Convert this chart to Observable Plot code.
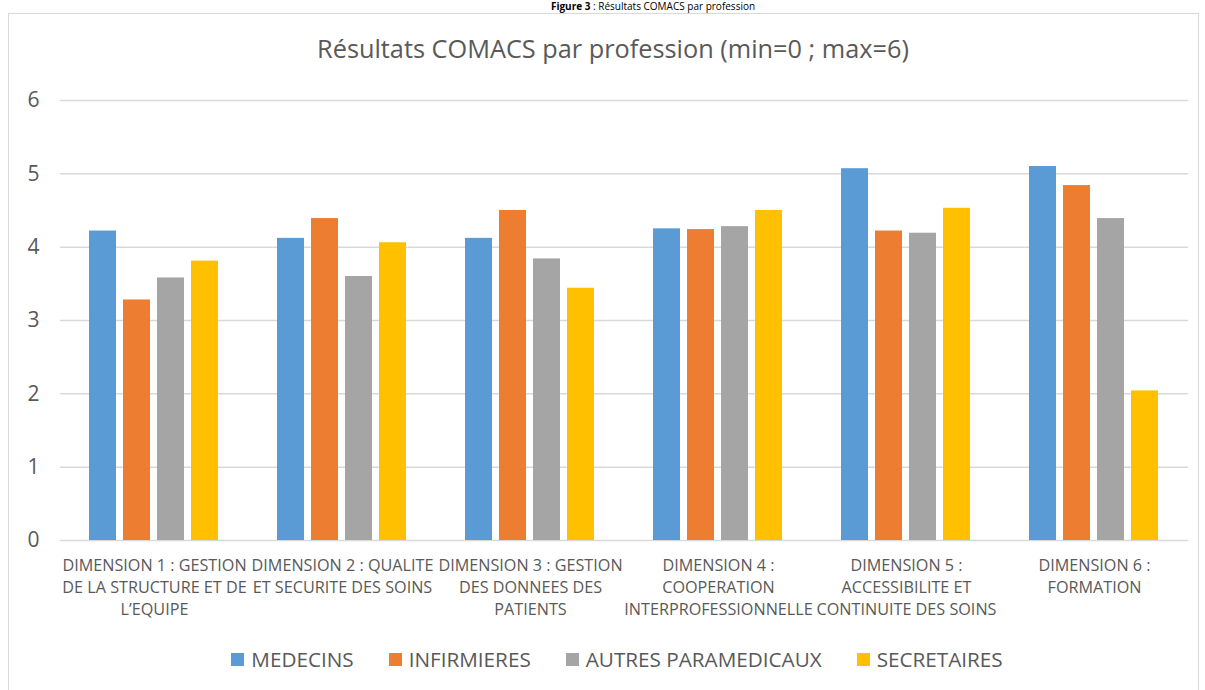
<!DOCTYPE html>
<html>
<head>
<meta charset="utf-8">
<script src="https://cdn.jsdelivr.net/npm/d3@7"></script>
<script src="https://cdn.jsdelivr.net/npm/@observablehq/plot@0.6"></script>
<style>
  html, body { margin: 0; padding: 0; background: #fff; width: 1205px; height: 690px; overflow: hidden; position: relative; font-family: "Open Sans", sans-serif; }
  #caption { position: absolute; top: 1px; left: 0; width: 1306px; text-align: center; font-size: 10px; line-height: 11px; color: #000; white-space: nowrap; }
  #frame { position: absolute; left: 8px; top: 13px; width: 1191px; height: 700px; border: 1.5px solid #d9d9d9; box-sizing: border-box; }
  #title { position: absolute; top: 31px; left: 0; width: 1226px; text-align: center; font-size: 25.3px; color: #595959; white-space: nowrap; }
  #chart { position: absolute; left: 0; top: 0; }
  #legend { position: absolute; top: 645px; left: 0; width: 1234px; display: flex; justify-content: center; gap: 35px; font-size: 20.7px; color: #595959; }
  .item { display: flex; align-items: center; gap: 7px; }
  .sw { width: 13px; height: 13px; display: inline-block; }
</style>
</head>
<body>
<div id="caption"><b>Figure 3</b> : Résultats COMACS par profession</div>
<div id="frame"></div>
<div id="title">Résultats COMACS par profession (min=0 ; max=6)</div>
<div id="chart"></div>
<div id="legend"></div>
<script>
const dimensions = ["D1", "D2", "D3", "D4", "D5", "D6"];
const dimensionLabels = [
  "DIMENSION 1 : GESTION\nDE LA STRUCTURE ET DE\nL’EQUIPE",
  "DIMENSION 2 : QUALITE\nET SECURITE DES SOINS",
  "DIMENSION 3 : GESTION\nDES DONNEES DES\nPATIENTS",
  "DIMENSION 4 :\nCOOPERATION\nINTERPROFESSIONNELLE",
  "DIMENSION 5 :\nACCESSIBILITE ET\nCONTINUITE DES SOINS",
  "DIMENSION 6 :\nFORMATION"
];
const professions = ["MEDECINS", "INFIRMIERES", "AUTRES PARAMEDICAUX", "SECRETAIRES"];
const colors = ["#5B9BD5", "#ED7D31", "#A5A5A5", "#FFC000"];
const medecins = [4.22, 4.12, 4.12, 4.25, 5.07, 5.10];
const infirmieres = [3.28, 4.39, 4.50, 4.24, 4.22, 4.84];
const autresParamedicaux = [3.58, 3.60, 3.84, 4.28, 4.19, 4.39];
const secretaires = [3.81, 4.06, 3.44, 4.50, 4.53, 2.04];
const yTicks = [0, 1, 2, 3, 4, 5, 6];

const series = [medecins, infirmieres, autresParamedicaux, secretaires];
const rows = [];
dimensions.forEach((d, i) => {
  professions.forEach((p, j) => rows.push({dim: d, prof: p, value: series[j][i]}));
});
const labelOf = new Map(dimensions.map((d, i) => [d, dimensionLabels[i]]));

const chart = Plot.plot({
  width: 1205,
  height: 690,
  marginTop: 100,
  marginBottom: 150,
  marginLeft: 60,
  marginRight: 17,
  style: {fontFamily: "'Open Sans', sans-serif", color: "#595959", background: "transparent"},
  fx: {domain: dimensions, padding: 0, label: null, axis: null},
  x: {domain: professions, paddingInner: 0.2, paddingOuter: 0.86, axis: null},
  y: {domain: [0, 6], axis: null},
  color: {domain: professions, range: colors},
  marks: [
    Plot.gridY(yTicks, {stroke: "#d9d9d9", strokeOpacity: 1, strokeWidth: 1.5}),
    Plot.axisY(yTicks, {tickSize: 0, tickPadding: 21, fontSize: 21, fill: "#595959", label: null, tickFormat: d => String(d)}),
    Plot.axisFx({anchor: "bottom", tickSize: 0, tickPadding: 15, fontSize: 16.2, lineHeight: 1.36, fill: "#595959", label: null, tickFormat: d => labelOf.get(d)}),
    Plot.barY(rows, {fx: "dim", x: "prof", y: "value", fill: "prof"})
  ]
});
document.getElementById("chart").appendChild(chart);

const legend = document.getElementById("legend");
professions.forEach((p, i) => {
  const it = document.createElement("div");
  it.className = "item";
  const sw = document.createElement("span");
  sw.className = "sw";
  sw.style.background = colors[i];
  const t = document.createElement("span");
  t.textContent = p;
  it.appendChild(sw);
  it.appendChild(t);
  legend.appendChild(it);
});
</script>
</body>
</html>
